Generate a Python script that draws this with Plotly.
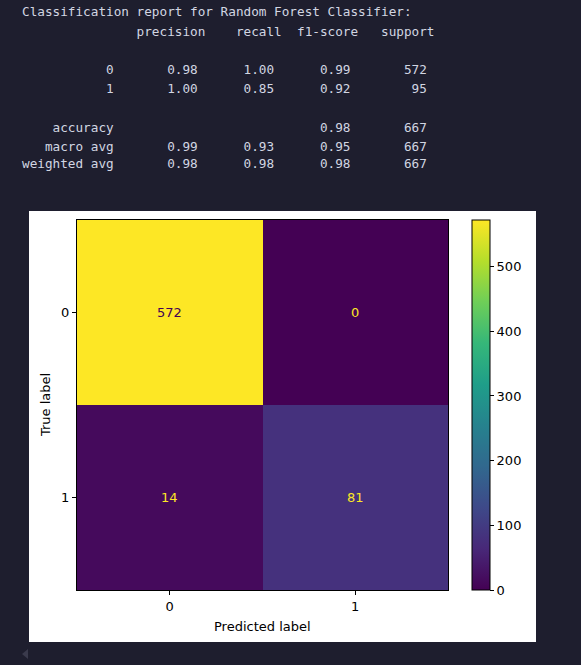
import plotly.graph_objects as go

# ---------------- data ----------------
class_labels = ["0", "1"]
confusion = [[572, 0],
             [14, 81]]

report_title = "Classification report for Random Forest Classifier:"
report_classes = ["0", "1"]
precision = [0.98, 1.00]
recall = [1.00, 0.85]
f1_score = [0.99, 0.92]
support = [572, 95]
accuracy = 0.98
total_support = 667
avg_names = ["macro avg", "weighted avg"]
avg_precision = [0.99, 0.98]
avg_recall = [0.93, 0.98]
avg_f1 = [0.95, 0.98]
colorbar_ticks = [0, 100, 200, 300, 400, 500]

# ---------------- helpers ----------------
W, H = 581, 665
BG = "#1e1e2e"
TXT = "#d2d6e2"


def px(x):
    return x / W


def py(y):
    return 1 - y / H


# build the sklearn-style report lines
w = 12
lines = [report_title]
lines.append(" " + " " * w + " " + "".join(" {:>9}".format(h) for h in ["precision", "recall", "f1-score", "support"]))
lines.append("")
for c, p, r, f, s in zip(report_classes, precision, recall, f1_score, support):
    lines.append("{:>12s} ".format(c) + " {:>9.2f}".format(p) + " {:>9.2f}".format(r) + " {:>9.2f}".format(f) + " {:>9}".format(s))
lines.append("")
lines.append("{:>12s} ".format("accuracy") + " {:>9}".format("") * 2 + " {:>9.2f}".format(accuracy) + " {:>9}".format(total_support))
for n, p, r, f in zip(avg_names, avg_precision, avg_recall, avg_f1):
    lines.append("{:>12s} ".format(n) + " {:>9.2f}".format(p) + " {:>9.2f}".format(r) + " {:>9.2f}".format(f) + " {:>9}".format(total_support))

line_y = [12, 32, 50, 69, 88, 107, 127, 146, 164]

annotations = []
for ln, yy in zip(lines, line_y):
    if not ln:
        continue
    annotations.append(dict(
        text=ln.replace(" ", "\u00a0"), x=px(21), y=py(yy), xref="paper", yref="paper",
        xanchor="left", yanchor="middle", showarrow=False, borderpad=0,
        font=dict(family="DejaVu Sans Mono", size=12.7, color=TXT)))

# cell text annotations (matplotlib style: dark text on bright cells, bright on dark)
zmax = max(max(r) for r in confusion)
thresh = zmax / 2.0
for i, row in enumerate(confusion):
    for j, v in enumerate(row):
        annotations.append(dict(
            text=str(v), x=j, y=i, xref="x", yref="y", showarrow=False,
            font=dict(family="DejaVu Sans", size=13, color="#440154" if v > thresh else "#fde725")))

# axis titles
annotations.append(dict(text="Predicted label", x=px(262), y=py(626), xref="paper", yref="paper",
                        showarrow=False, xanchor="center", yanchor="middle",
                        font=dict(family="DejaVu Sans", size=13, color="black")))
annotations.append(dict(text="True label", x=px(45), y=py(405), xref="paper", yref="paper",
                        showarrow=False, xanchor="center", yanchor="middle", textangle=-90,
                        font=dict(family="DejaVu Sans", size=13, color="black")))

fig = go.Figure(go.Heatmap(
    z=confusion, x=[0, 1], y=[0, 1],
    colorscale="Viridis", zmin=0, zmax=zmax,
    hoverinfo="skip",
    colorbar=dict(
        thickness=18, thicknessmode="pixels",
        len=370, lenmode="pixels",
        x=px(472), xanchor="left", y=py(220), yanchor="top",
        xpad=0, ypad=0,
        outlinecolor="black", outlinewidth=1,
        tickvals=colorbar_ticks, ticks="outside", ticklen=4, tickcolor="black", tickwidth=1,
        tickfont=dict(family="DejaVu Sans", size=13, color="black"),
    ),
))

fig.update_layout(
    width=W, height=H, autosize=False,
    margin=dict(l=0, r=0, t=0, b=0, pad=0),
    paper_bgcolor=BG, plot_bgcolor="white",
    showlegend=False,
    xaxis=dict(domain=[px(77), px(448)], range=[-0.5, 1.5], tickvals=[0, 1], ticktext=class_labels,
               ticks="outside", ticklen=4, tickcolor="black", showgrid=False, zeroline=False,
               showline=True, mirror=True, linecolor="black", linewidth=1,
               tickfont=dict(family="DejaVu Sans", size=13, color="black")),
    yaxis=dict(domain=[py(590), py(220)], range=[1.5, -0.5], tickvals=[0, 1], ticktext=class_labels,
               ticks="outside", ticklen=4, tickcolor="black", showgrid=False, zeroline=False,
               showline=True, mirror=True, linecolor="black", linewidth=1,
               tickfont=dict(family="DejaVu Sans", size=13, color="black")),
    shapes=[
        dict(type="rect", xref="paper", yref="paper", x0=px(29), x1=px(536), y0=py(642), y1=py(211),
             fillcolor="white", line=dict(width=0), layer="below"),
        dict(type="path", xref="paper", yref="paper",
             path="M {} {} L {} {} L {} {} Z".format(px(22), py(654), px(28), py(649), px(28), py(659)),
             fillcolor="#3a3a4c", line=dict(width=0), layer="below"),
    ],
    annotations=annotations,
)

fig.write_html(
    "out.html",
    config={"displayModeBar": False},
    post_script="document.body.style.margin='0';document.body.style.padding='0';"
                "document.body.style.background='" + BG + "';"
                "document.body.style.overflow='hidden';",
)
